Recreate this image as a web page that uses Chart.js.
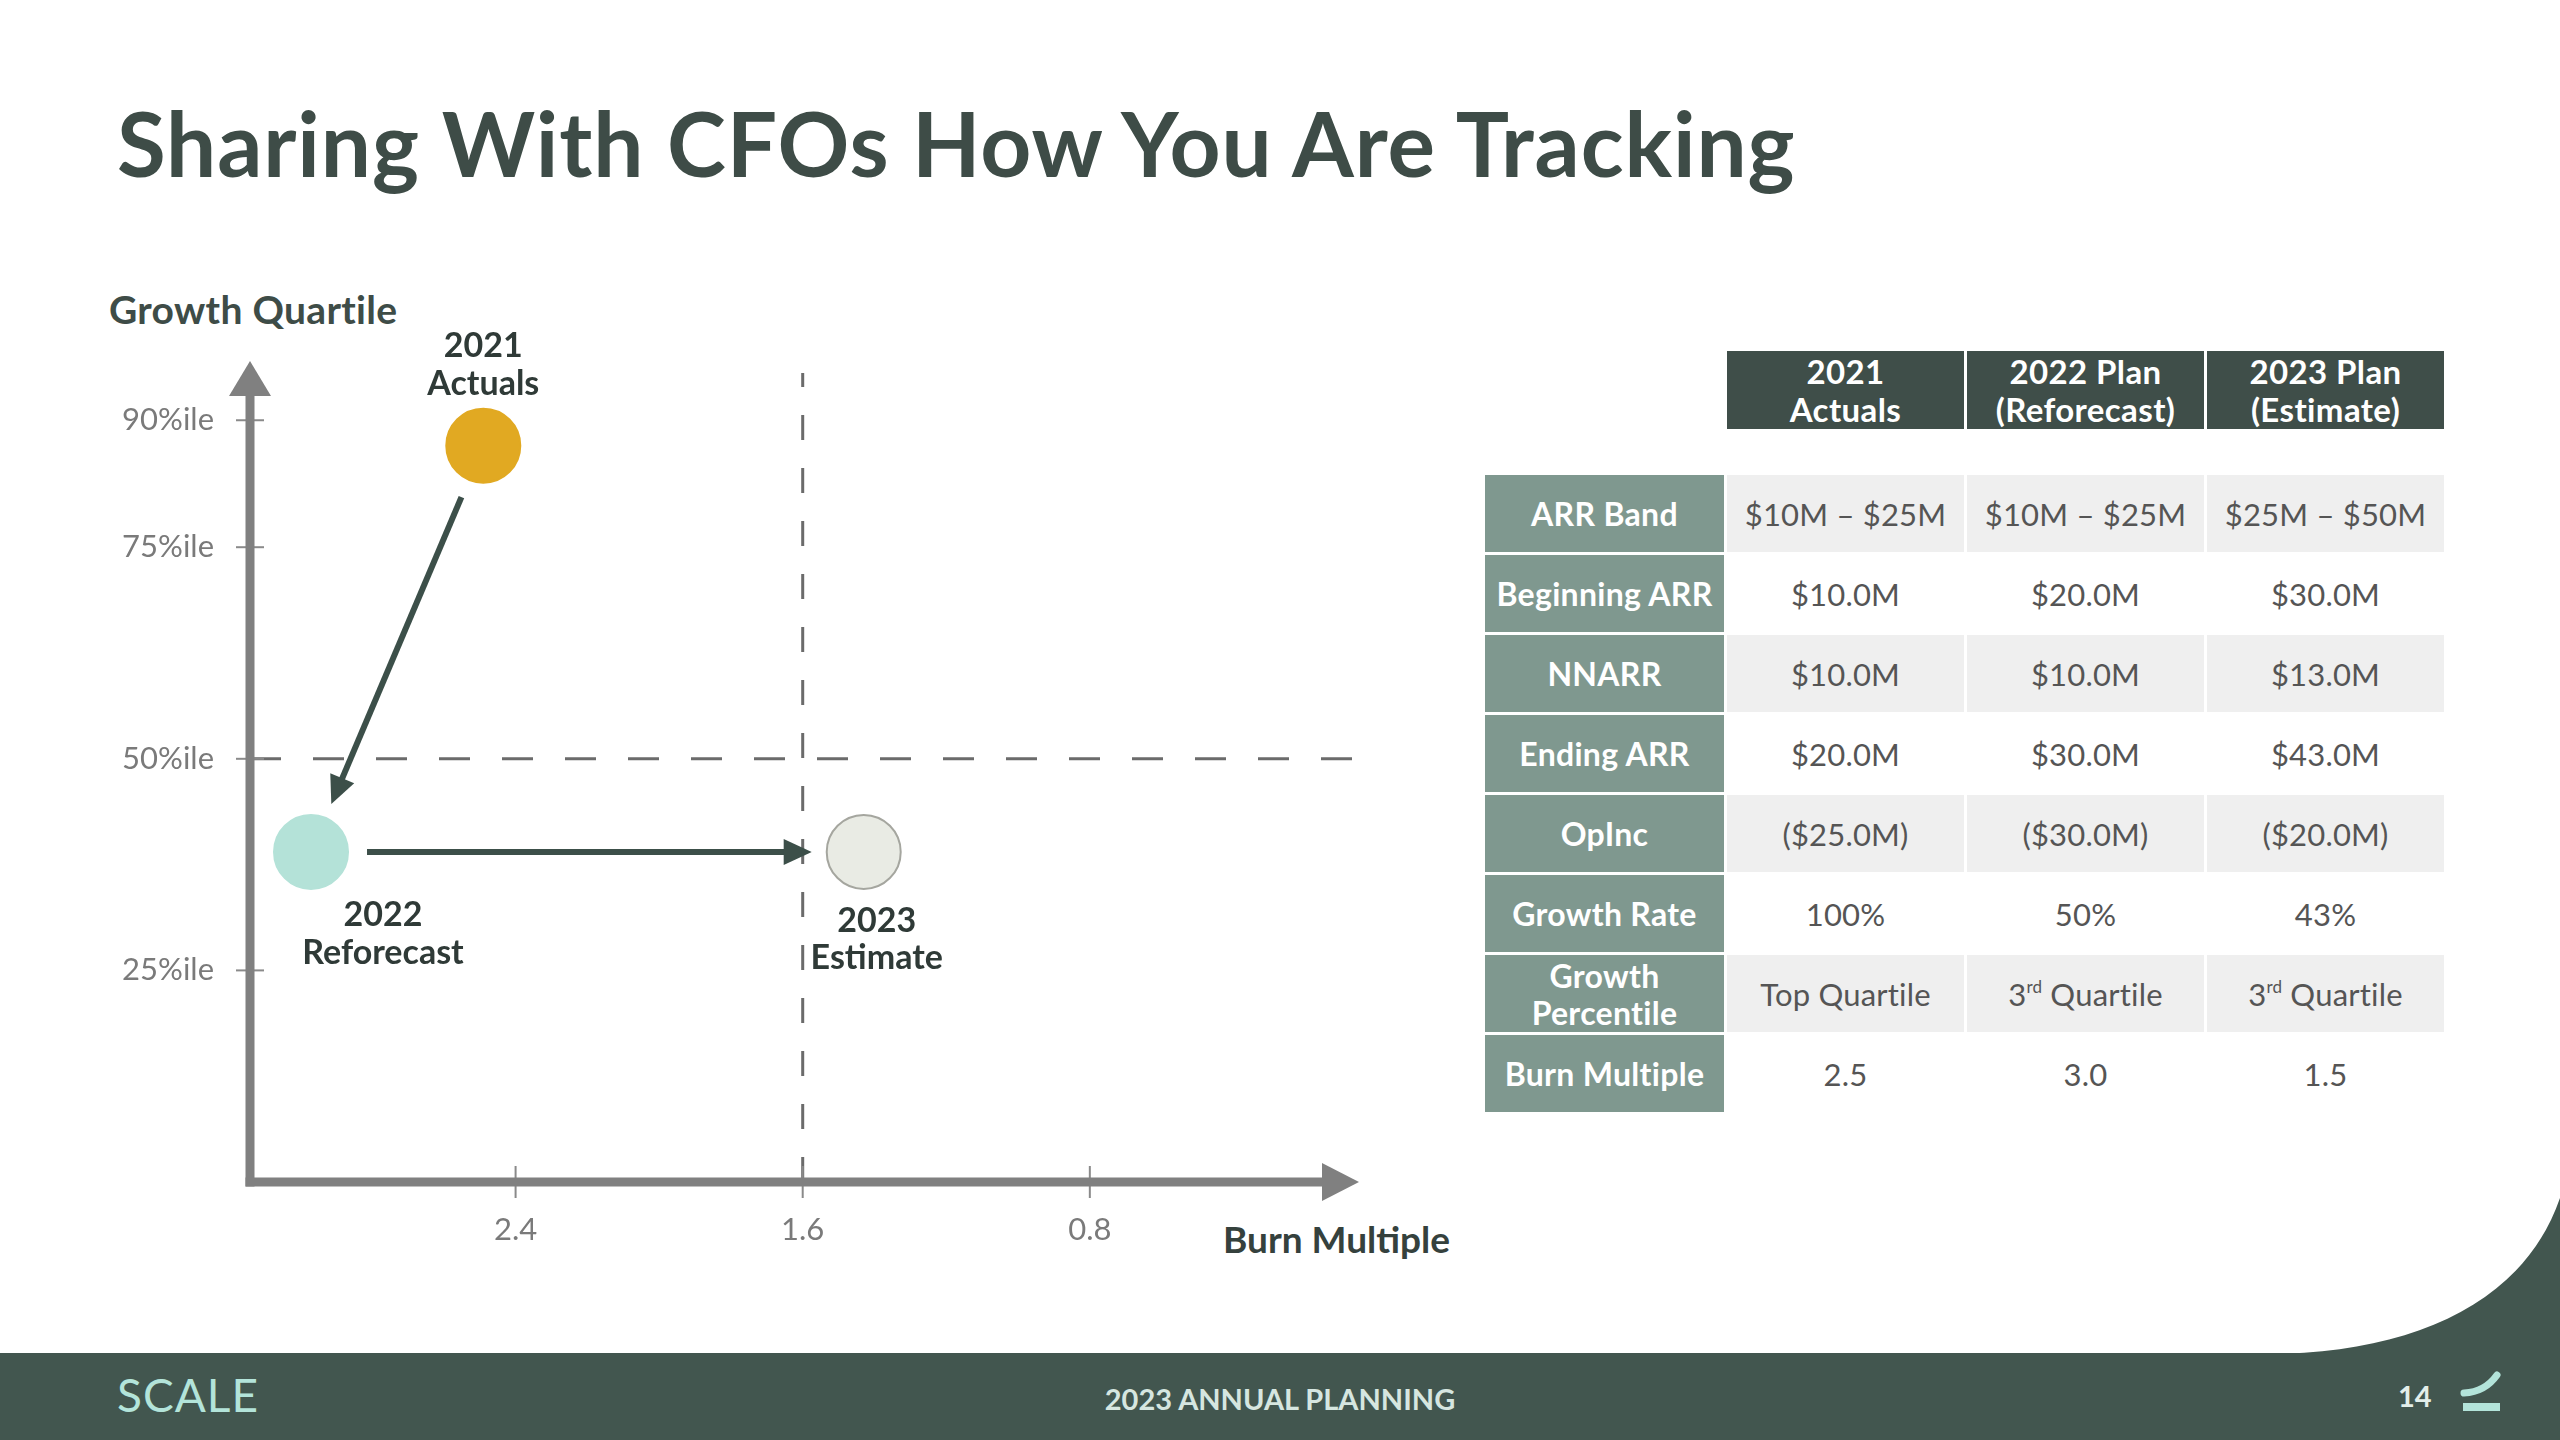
<!DOCTYPE html>
<html>
<head>
<meta charset="utf-8">
<script src="https://cdn.jsdelivr.net/npm/chart.js@4.4.1/dist/chart.umd.min.js"></script>
<style>
  html, body { margin: 0; padding: 0; background: #ffffff; }
  body { width: 2560px; height: 1440px; position: relative; overflow: hidden; font-family: Lato, "Open Sans", sans-serif; }
  .abs { position: absolute; white-space: nowrap; }
  #title { left: 117px; top: 98px; font-size: 89px; line-height: 89px; font-weight: 700; color: #3e4c47; letter-spacing: 0.9px; }
  #ytitle { left: 109px; top: 290px; font-size: 39px; line-height: 39px; font-weight: 700; color: #3e4c47; letter-spacing: 0.3px; }
  #xtitle { left: 1223px; top: 1220px; font-size: 37px; line-height: 37px; font-weight: 700; color: #35413d; }
  #chartBox { position: absolute; left: 0; top: 300px; width: 1480px; height: 1000px; }
  #footer { position: absolute; left: 0; top: 1353px; width: 2560px; height: 87px; background: #42564f; }
  #scale { left: 117px; top: 1372px; font-size: 46px; line-height: 46px; font-weight: 400; color: #b3e4da; letter-spacing: 1px; }
  #plan { left: 0; width: 2560px; text-align: center; top: 1384px; font-size: 29px; line-height: 29px; font-weight: 700; color: #d6e6e0; }
  #page { left: 2398px; top: 1381px; font-size: 29px; line-height: 29px; font-weight: 700; color: #e3eeea; }
  #hdr { position: absolute; left: 1727px; top: 351px; display: grid; grid-template-columns: 237px 237px 237px; column-gap: 3px; }
  #hdr div { background: #3f4e49; color: #ffffff; font-weight: 700; font-size: 33px; line-height: 38px; letter-spacing: 0.4px; height: 78px; display: flex; align-items: center; justify-content: center; text-align: center; }
  #tbl { position: absolute; left: 1485px; top: 475px; display: grid; grid-template-columns: 239px 237px 237px 237px; column-gap: 3px; row-gap: 3px; }
  #tbl > div { height: 77px; display: flex; align-items: center; justify-content: center; text-align: center; }
  #tbl .lab { background: #7f988f; color: #ffffff; font-weight: 700; font-size: 32px; line-height: 37px; letter-spacing: 0.3px; }
  #tbl .val { color: #555555; font-size: 31px; font-weight: 400; letter-spacing: 0.2px; }
  #tbl .odd { background: #efefef; }
  #tbl .even { background: #ffffff; }
  sup { font-size: 0.55em; line-height: 0; vertical-align: 0.75em; }
</style>
</head>
<body>
<div id="title" class="abs">Sharing With CFOs How You Are Tracking</div>
<div id="ytitle" class="abs">Growth Quartile</div>
<div id="xtitle" class="abs">Burn Multiple</div>
<div id="chartBox"><canvas id="c"></canvas></div>
<div id="hdr"></div>
<div id="tbl"></div>
<svg class="abs" style="left:0;top:0" width="2560" height="1440">
  <path d="M2280 1354 C 2420 1350, 2525 1300, 2560 1198 L 2560 1354 Z" fill="#42564f"/>
</svg>
<div id="footer"></div>
<div id="scale" class="abs">SCALE</div>
<div id="plan" class="abs">2023 ANNUAL PLANNING</div>
<div id="page" class="abs">14</div>
<svg class="abs" style="left:2455px;top:1365px" width="60" height="55">
  <path d="M9 28 Q 30 27 42 10" stroke="#b3e4da" stroke-width="7" fill="none" stroke-linecap="round"/>
  <rect x="8" y="38" width="37" height="8" fill="#b3e4da"/>
</svg>
<script>
// ---------- data ----------
const pointNames = ["2021\nActuals", "2022\nReforecast", "2023\nEstimate"];
const burnMultiple = [2.49, 2.97, 1.43];
const growthPercentile = [87, 39, 39];
const pointColors = ["#e1a922", "#b4e2d8", "#e9ebe4"];
const pointBorders = ["#e1a922", "#b4e2d8", "#a5a69f"];
const yTickValues = [25, 50, 75, 90];
const yTickLabels = ["25%ile", "50%ile", "75%ile", "90%ile"];
const xTickValues = [2.4, 1.6, 0.8];
const xTickLabels = ["2.4", "1.6", "0.8"];
const refBurn = 1.6;
const refGrowth = 50;
const arrowPairs = [[0, 1], [1, 2]];

const tableHeaders = ["2021<br>Actuals", "2022 Plan<br>(Reforecast)", "2023 Plan<br>(Estimate)"];
const rowLabels = ["ARR Band", "Beginning ARR", "NNARR", "Ending ARR", "OpInc", "Growth Rate", "Growth<br>Percentile", "Burn Multiple"];
const col2021 = ["$10M – $25M", "$10.0M", "$10.0M", "$20.0M", "($25.0M)", "100%", "Top Quartile", "2.5"];
const col2022 = ["$10M – $25M", "$20.0M", "$10.0M", "$30.0M", "($30.0M)", "50%", "3<sup>rd</sup> Quartile", "3.0"];
const col2023 = ["$25M – $50M", "$30.0M", "$13.0M", "$43.0M", "($20.0M)", "43%", "3<sup>rd</sup> Quartile", "1.5"];

// ---------- table ----------
const hdr = document.getElementById('hdr');
tableHeaders.forEach(h => { const d = document.createElement('div'); d.innerHTML = '<span>' + h + '</span>'; hdr.appendChild(d); });
const tbl = document.getElementById('tbl');
rowLabels.forEach((lab, i) => {
  const band = i % 2 === 0 ? 'odd' : 'even';
  const l = document.createElement('div'); l.className = 'lab'; l.innerHTML = '<span>' + lab + '</span>'; tbl.appendChild(l);
  [col2021, col2022, col2023].forEach(col => {
    const d = document.createElement('div'); d.className = 'val ' + band; d.innerHTML = '<span>' + col[i] + '</span>'; tbl.appendChild(d);
  });
});

// ---------- chart ----------
const labelStyle = [
  { dx: 0, dy: [-100, -62] },
  { dx: 72, dy: [63, 101] },
  { dx: 13, dy: [69, 106] }
];

const decor = {
  id: 'decor',
  beforeDatasetsDraw(chart) {
    const { ctx, chartArea: ca, scales: { x, y } } = chart;
    ctx.save();
    ctx.strokeStyle = '#6b6b6b';
    ctx.lineWidth = 3;
    const vx = x.getPixelForValue(refBurn);
    ctx.setLineDash([25, 28]);
    ctx.lineDashOffset = 11;
    ctx.beginPath(); ctx.moveTo(vx, ca.top + 12); ctx.lineTo(vx, ca.bottom); ctx.stroke();
    const hy = y.getPixelForValue(refGrowth);
    ctx.setLineDash([31, 32]);
    ctx.lineDashOffset = 0;
    ctx.beginPath(); ctx.moveTo(ca.left, hy); ctx.lineTo(ca.right - 4, hy); ctx.stroke();
    ctx.setLineDash([]);
    ctx.strokeStyle = '#8a8a8a';
    ctx.lineWidth = 2;
    yTickValues.forEach(v => {
      const py = y.getPixelForValue(v);
      ctx.beginPath(); ctx.moveTo(ca.left - 14, py); ctx.lineTo(ca.left + 14, py); ctx.stroke();
    });
    xTickValues.forEach(v => {
      const px = x.getPixelForValue(v);
      ctx.beginPath(); ctx.moveTo(px, ca.bottom - 16); ctx.lineTo(px, ca.bottom + 16); ctx.stroke();
    });
    ctx.strokeStyle = '#808080';
    ctx.fillStyle = '#808080';
    ctx.lineWidth = 9;
    ctx.beginPath(); ctx.moveTo(ca.left, ca.bottom + 4.5); ctx.lineTo(ca.left, ca.top + 30); ctx.stroke();
    ctx.beginPath(); ctx.moveTo(ca.left, ca.top); ctx.lineTo(ca.left - 21, ca.top + 35); ctx.lineTo(ca.left + 21, ca.top + 35); ctx.closePath(); ctx.fill();
    ctx.beginPath(); ctx.moveTo(ca.left - 4.5, ca.bottom); ctx.lineTo(ca.right - 32, ca.bottom); ctx.stroke();
    ctx.beginPath(); ctx.moveTo(ca.right, ca.bottom); ctx.lineTo(ca.right - 37, ca.bottom - 19); ctx.lineTo(ca.right - 37, ca.bottom + 19); ctx.closePath(); ctx.fill();
    ctx.restore();
  },
  afterDatasetsDraw(chart) {
    const { ctx } = chart;
    const meta = chart.getDatasetMeta(0);
    const pts = meta.data.map(e => ({ x: e.x, y: e.y }));
    ctx.save();
    ctx.strokeStyle = '#3c4f49';
    ctx.fillStyle = '#3c4f49';
    ctx.lineWidth = 6;
    arrowPairs.forEach(([a, b]) => {
      const p = pts[a], q = pts[b];
      const dx = q.x - p.x, dy = q.y - p.y, len = Math.hypot(dx, dy);
      const ux = dx / len, uy = dy / len;
      const sx = p.x + ux * 56, sy = p.y + uy * 56;
      const tx = q.x - ux * 52, ty = q.y - uy * 52;
      const hl = 28, hw = 13;
      const bx = tx - ux * hl, by = ty - uy * hl;
      ctx.beginPath(); ctx.moveTo(sx, sy); ctx.lineTo(bx + ux * 2, by + uy * 2); ctx.stroke();
      ctx.beginPath(); ctx.moveTo(tx, ty);
      ctx.lineTo(bx - uy * hw, by + ux * hw);
      ctx.lineTo(bx + uy * hw, by - ux * hw);
      ctx.closePath(); ctx.fill();
    });
    ctx.fillStyle = '#2f3a37';
    ctx.font = '700 34px Lato';
    ctx.textAlign = 'center';
    ctx.textBaseline = 'middle';
    pointNames.forEach((name, i) => {
      const lines = name.split('\n');
      const st = labelStyle[i];
      lines.forEach((ln, k) => ctx.fillText(ln, pts[i].x + st.dx, pts[i].y + st.dy[k]));
    });
    ctx.restore();
  }
};

new Chart(document.getElementById('c'), {
  type: 'scatter',
  data: {
    datasets: [{
      data: burnMultiple.map((b, i) => ({ x: b, y: growthPercentile[i] })),
      pointRadius: 37,
      pointHoverRadius: 37,
      pointBackgroundColor: pointColors,
      pointBorderColor: pointBorders,
      pointBorderWidth: 2
    }]
  },
  plugins: [decor],
  options: {
    responsive: true,
    maintainAspectRatio: false,
    animation: false,
    events: [],
    layout: { padding: { left: 50, right: 121, top: 61, bottom: 18 } },
    plugins: { legend: { display: false }, tooltip: { enabled: false } },
    scales: {
      x: {
        type: 'linear', reverse: true, min: 0.05, max: 3.14,
        grid: { display: false, drawTicks: false },
        border: { display: false },
        afterBuildTicks: s => { s.ticks = xTickValues.map(v => ({ value: v })); },
        afterFit: s => { s.height = 100; },
        ticks: {
          padding: 29,
          color: '#7a7a7a',
          font: { family: 'Lato', size: 31 },
          callback: v => xTickLabels[xTickValues.indexOf(v)]
        }
      },
      y: {
        type: 'linear', min: 0, max: 97,
        grid: { display: false, drawTicks: false },
        border: { display: false },
        afterBuildTicks: s => { s.ticks = yTickValues.map(v => ({ value: v })); },
        afterFit: s => { s.width = 200; },
        ticks: {
          padding: 36,
          color: '#7a7a7a',
          font: { family: 'Lato', size: 31 },
          callback: v => yTickLabels[yTickValues.indexOf(v)]
        }
      }
    }
  }
});
</script>
</body>
</html>
